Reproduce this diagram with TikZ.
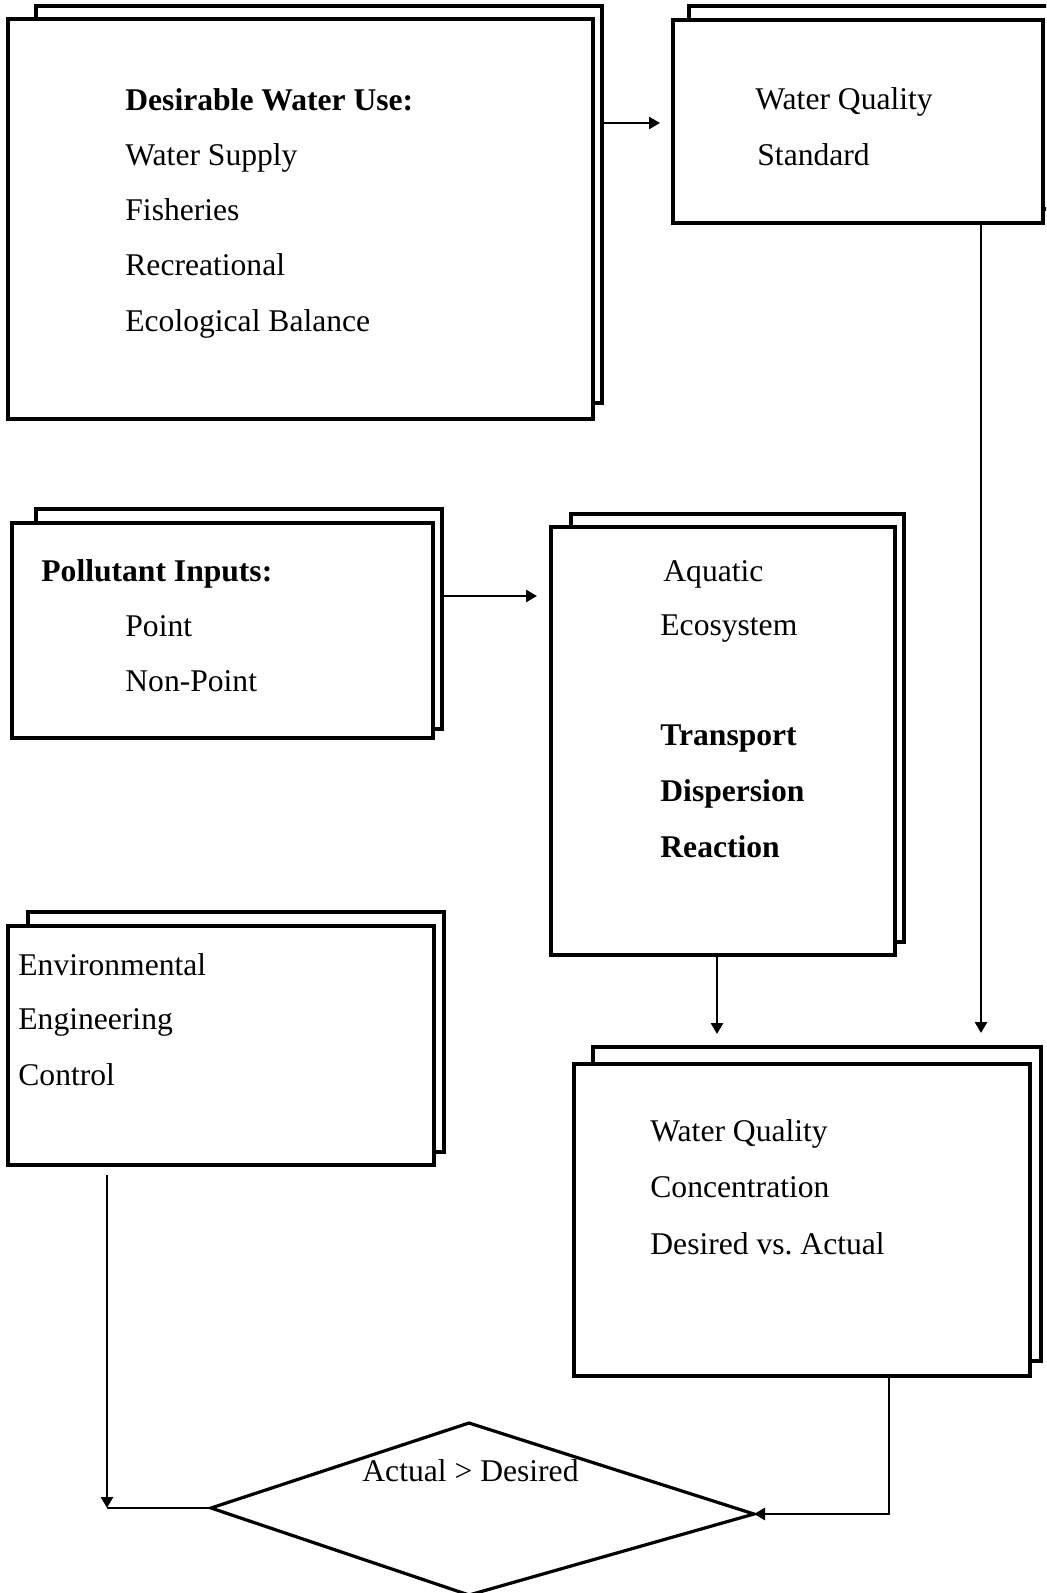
\documentclass[tikz,border=0pt]{standalone}
\usepackage{fontspec}
\setmainfont{Liberation Serif}
\usetikzlibrary{arrows.meta}
\begin{document}
\frenchspacing
\begin{tikzpicture}[x=0.5pt,y=-0.5pt,
  boxline/.style={draw=black,line width=1.6pt,fill=white,inner sep=0pt},
  txt/.style={anchor=base west,inner sep=0pt,font=\fontsize{15.8pt}{19pt}\selectfont},
  btxt/.style={txt,font=\fontsize{15.8pt}{19pt}\selectfont\bfseries},
  arr/.style={line width=1.3pt,-{Triangle[length=5.5pt,width=6pt]}},
  plain/.style={line width=1.3pt}]
\useasboundingbox (0,0) rectangle (1046,1593);
\clip (0,0) rectangle (1046,1593);
% Box 1
\node[boxline,minimum width=283pt,minimum height=198.5pt] (b1b) at (319,204.5) {};
\node[boxline,minimum width=292.5pt,minimum height=200pt] (b1f) at (300.5,219) {};
% Box 2
\node[boxline,minimum width=182pt,minimum height=101.5pt] (b2b) at (871,107.5) {};
\node[boxline,minimum width=185pt,minimum height=101.5pt] (b2f) at (858,121.5) {};
% Box 3
\node[boxline,minimum width=203pt,minimum height=110pt] (b3b) at (239,619) {};
\node[boxline,minimum width=210.5pt,minimum height=107.5pt] (b3f) at (222.5,630.5) {};
% Box 4
\node[boxline,minimum width=166.5pt,minimum height=214pt] (b4b) at (737.5,728) {};
\node[boxline,minimum width=172pt,minimum height=214pt] (b4f) at (723,741) {};
% Box 5
\node[boxline,minimum width=224pt,minimum height=157pt] (b5b) at (817,1204) {};
\node[boxline,minimum width=228pt,minimum height=156pt] (b5f) at (802,1220) {};
% Box 6
\node[boxline,minimum width=208pt,minimum height=120pt] (b6b) at (236,1032) {};
\node[boxline,minimum width=213pt,minimum height=119.5pt] (b6f) at (221,1045.5) {};
% Diamond
\coordinate (dl) at (211,1508);
\coordinate (dt) at (469,1423);
\coordinate (dr) at (754,1514);
\coordinate (db) at (469,1595);
\draw[line width=1.6pt,line join=miter] (dl) -- (dt) -- (dr) -- (db) -- cycle;
% Texts
\node[btxt] (t11) at (125,111) {Desirable Water Use:};
\node[txt] (t12) at (125,166) {Water Supply};
\node[txt] (t13) at (125,221) {Fisheries};
\node[txt] (t14) at (125,276) {Recreational};
\node[txt] (t15) at (125,332) {Ecological Balance};
\node[txt] (t21) at (755,110) {Water Quality};
\node[txt] (t22) at (757,166) {Standard};
\node[btxt] (t31) at (41,581) {Pollutant Inputs:};
\node[txt] (t32) at (125,636) {Point};
\node[txt] (t33) at (125,691) {Non-Point};
\node[txt] (t41) at (663,581) {Aquatic};
\node[txt] (t42) at (660,635) {Ecosystem};
\node[btxt] (t43) at (660,745) {Transport};
\node[btxt] (t44) at (660,801) {Dispersion};
\node[btxt] (t45) at (660,857) {Reaction};
\node[txt] (t51) at (650,1141) {Water Quality};
\node[txt] (t52) at (650,1197) {Concentration};
\node[txt] (t53) at (650,1254) {Desired vs. Actual};
\node[txt] (t61) at (18,975) {Environmental};
\node[txt] (t62) at (18,1029) {Engineering};
\node[txt] (t63) at (18,1085) {Control};
\node[txt] (t71) at (362,1481) {Actual > Desired};
% Connectors
\coordinate (a1e) at (660,123);
\draw[arr] (b1b.east |- a1e) -- (a1e);
\coordinate (a2e) at (537,596);
\draw[arr] (b3b.east |- a2e) -- (a2e);
\coordinate (a3e) at (717,1034);
\draw[arr] (b4f.south -| a3e) -- (a3e);
\coordinate (a4e) at (981,1033);
\draw[arr] (b2f.south -| a4e) -- (a4e);
\coordinate (a5e) at (107,1508);
\draw[arr,shorten <=4pt] (b6f.south -| a5e) -- (a5e);
\draw[plain] (a5e) -- (dl);
\coordinate (a6c) at (889,1514);
\draw[arr] (b5f.south -| a6c) -- (a6c) -- (dr);
\end{tikzpicture}
\end{document}
